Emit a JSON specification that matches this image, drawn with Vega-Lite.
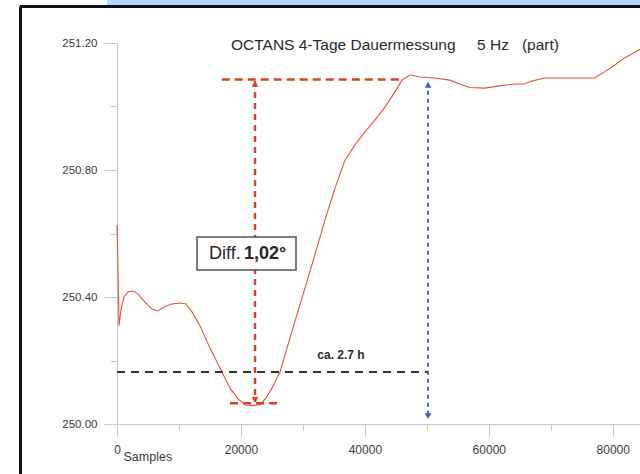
{
  "$schema": "https://vega.github.io/schema/vega-lite/v6.json",
  "width": 523,
  "height": 381,
  "autosize": {"type": "none"},
  "padding": {"left": 117, "top": 43, "right": 0, "bottom": 50},
  "background": "white",
  "config": {
    "view": {"stroke": null},
    "font": "Liberation Sans",
    "axis": {"grid": false, "domainColor": "#c8c8c8", "tickColor": "#c8c8c8", "labelColor": "#3c3c3c", "labelFont": "Liberation Sans"}
  },
  "datasets": {
    "heading": [
      {"s": -1614, "s2": 84400, "v": 251.3354, "v2": 251.3165}
    ],
    "frame": [
      {"s": -15654, "s2": 84400, "v": 251.315, "v2": 251.315},
      {"s": -15573, "s2": -15573, "v": 251.315, "v2": 249.8425}
    ],
    "octans": [
      {"s": 0, "v": 250.627},
      {"s": 150, "v": 250.5},
      {"s": 320, "v": 250.31},
      {"s": 650, "v": 250.36},
      {"s": 1130, "v": 250.4},
      {"s": 1770, "v": 250.416},
      {"s": 2580, "v": 250.419},
      {"s": 3390, "v": 250.41},
      {"s": 4500, "v": 250.384},
      {"s": 5650, "v": 250.362},
      {"s": 6610, "v": 250.356},
      {"s": 7740, "v": 250.37},
      {"s": 8870, "v": 250.378},
      {"s": 10160, "v": 250.381},
      {"s": 11130, "v": 250.378},
      {"s": 12103, "v": 250.353},
      {"s": 13395, "v": 250.309},
      {"s": 15008, "v": 250.239},
      {"s": 16945, "v": 250.164},
      {"s": 18236, "v": 250.113},
      {"s": 19527, "v": 250.079},
      {"s": 20818, "v": 250.06},
      {"s": 21948, "v": 250.058},
      {"s": 23080, "v": 250.061},
      {"s": 24045, "v": 250.082},
      {"s": 25010, "v": 250.113},
      {"s": 26300, "v": 250.164},
      {"s": 27920, "v": 250.271},
      {"s": 29855, "v": 250.397},
      {"s": 31630, "v": 250.513},
      {"s": 33570, "v": 250.643},
      {"s": 35180, "v": 250.743},
      {"s": 36790, "v": 250.831},
      {"s": 38400, "v": 250.879},
      {"s": 40010, "v": 250.92},
      {"s": 41630, "v": 250.957},
      {"s": 43250, "v": 250.998},
      {"s": 44860, "v": 251.046},
      {"s": 45990, "v": 251.083},
      {"s": 47280, "v": 251.1},
      {"s": 48850, "v": 251.093},
      {"s": 51270, "v": 251.09},
      {"s": 53690, "v": 251.083},
      {"s": 55300, "v": 251.071},
      {"s": 56910, "v": 251.06},
      {"s": 59330, "v": 251.058},
      {"s": 61750, "v": 251.065},
      {"s": 64170, "v": 251.071},
      {"s": 65780, "v": 251.071},
      {"s": 66910, "v": 251.08},
      {"s": 69010, "v": 251.09},
      {"s": 72230, "v": 251.09},
      {"s": 77060, "v": 251.09},
      {"s": 78670, "v": 251.109},
      {"s": 80280, "v": 251.13},
      {"s": 81890, "v": 251.153},
      {"s": 83500, "v": 251.17},
      {"s": 84400, "v": 251.18}
    ],
    "guides": [
      {"guide": "diff-h", "s": 16900, "s2": 45700, "v": 251.085, "v2": 251.085},
      {"guide": "diff-h", "s": 18236, "s2": 26628, "v": 250.065, "v2": 250.065},
      {"guide": "diff-v", "s": 22270, "s2": 22270, "v": 251.08, "v2": 250.07},
      {"guide": "level", "s": 0, "s2": 50200, "v": 250.164, "v2": 250.164},
      {"guide": "span", "s": 50200, "s2": 50200, "v": 251.075, "v2": 250.02}
    ],
    "arrows": [
      {"group": "diff", "dir": "up", "s": 22270, "v": 251.071},
      {"group": "diff", "dir": "down", "s": 22270, "v": 250.076},
      {"group": "span", "dir": "up", "s": 50200, "v": 251.068},
      {"group": "span", "dir": "down", "s": 50200, "v": 250.025}
    ],
    "box": [
      {"s": 12910, "s2": 28886, "v": 250.589, "v2": 250.485}
    ],
    "labels": [
      {"role": "title", "text": "OCTANS 4-Tage Dauermessung\u00a0\u00a0\u00a0\u00a0 5 Hz\u00a0\u00a0 (part)", "s": 18397, "v": 251.194},
      {"role": "duration", "text": "ca. 2.7 h", "s": 36150, "v": 250.217},
      {"role": "diff", "text": "Diff.", "s": 14847, "v": 250.535},
      {"role": "diffvalue", "text": "1,02°", "s": 20495, "v": 250.535}
    ]
  },
  "encoding": {
    "x": {"field": "s", "type": "quantitative", "scale": {"domain": [0, 84400], "nice": false, "zero": false}},
    "y": {"field": "v", "type": "quantitative", "scale": {"domain": [250, 251.2], "nice": false, "zero": false}}
  },
  "layer": [
    {
      "data": {"name": "heading"},
      "mark": {"type": "rect", "color": "#b4d6fb"},
      "encoding": {"x2": {"field": "s2"}, "y2": {"field": "v2"}}
    },
    {
      "data": {"name": "frame"},
      "mark": {"type": "rule", "color": "#111111", "strokeWidth": 3},
      "encoding": {"x2": {"field": "s2"}, "y2": {"field": "v2"}}
    },
    {
      "data": {"name": "octans"},
      "mark": {"type": "line", "color": "#e8503a", "strokeWidth": 1.1},
      "encoding": {
        "x": {
          "field": "s", "type": "quantitative",
          "axis": {
            "values": [0, 10000, 20000, 30000, 40000, 50000, 60000, 70000, 80000],
            "labelExpr": "datum.value % 20000 == 0 ? format(datum.value, 'd') : ''",
            "tickSize": {"condition": {"test": "datum.value % 20000 == 0", "value": 12}, "value": 6},
            "labelPadding": 8,
            "labelFontSize": 12,
            "labelFlush": false,
            "title": "Samples",
            "titleFont": "Liberation Sans",
            "titleFontSize": 12.5,
            "titleFontWeight": "normal",
            "titleColor": "#3c3c3c",
            "titleAlign": "left",
            "titleBaseline": "alphabetic",
            "titleX": 6,
            "titleY": 36
          }
        },
        "y": {
          "field": "v", "type": "quantitative",
          "axis": {
            "values": [250, 250.2, 250.4, 250.6, 250.8, 251, 251.2],
            "labelExpr": "round(datum.value * 10) % 4 == 0 ? format(datum.value, '.2f') : ''",
            "tickSize": {"condition": {"test": "round(datum.value * 10) % 4 == 0", "value": 13}, "value": 7},
            "labelPadding": 7,
            "labelFontSize": 11.5,
            "title": null
          }
        }
      }
    },
    {
      "data": {"name": "guides"},
      "transform": [{"filter": "datum.guide == 'level'"}],
      "mark": {"type": "rule", "color": "#333333", "strokeWidth": 2, "strokeDash": [8, 6]},
      "encoding": {"x2": {"field": "s2"}, "y2": {"field": "v2"}}
    },
    {
      "data": {"name": "guides"},
      "transform": [{"filter": "datum.guide == 'diff-h'"}],
      "mark": {"type": "rule", "color": "#e0401f", "strokeWidth": 2.5, "strokeDash": [8, 5]},
      "encoding": {"x2": {"field": "s2"}, "y2": {"field": "v2"}}
    },
    {
      "data": {"name": "guides"},
      "transform": [{"filter": "datum.guide == 'diff-v'"}],
      "mark": {"type": "rule", "color": "#e0401f", "strokeWidth": 2.5, "strokeDash": [6, 5]},
      "encoding": {"x2": {"field": "s2"}, "y2": {"field": "v2"}}
    },
    {
      "data": {"name": "guides"},
      "transform": [{"filter": "datum.guide == 'span'"}],
      "mark": {"type": "rule", "color": "#4b5bd0", "strokeWidth": 2, "strokeDash": [4, 4]},
      "encoding": {"x2": {"field": "s2"}, "y2": {"field": "v2"}}
    },
    {
      "data": {"name": "arrows"},
      "mark": {"type": "point", "filled": true, "size": 45, "opacity": 1},
      "encoding": {
        "shape": {"field": "dir", "type": "nominal", "scale": {"domain": ["up", "down"], "range": ["triangle-up", "triangle-down"]}, "legend": null},
        "color": {"field": "group", "type": "nominal", "scale": {"domain": ["diff", "span"], "range": ["#e0401f", "#4b5bd0"]}, "legend": null}
      }
    },
    {
      "data": {"name": "box"},
      "mark": {"type": "rect", "fill": "white", "stroke": "#555555", "strokeWidth": 1.5},
      "encoding": {"x2": {"field": "s2"}, "y2": {"field": "v2"}}
    },
    {
      "data": {"name": "labels"},
      "transform": [{"filter": "datum.role == 'title'"}],
      "mark": {"type": "text", "align": "left", "baseline": "middle", "font": "Liberation Sans", "fontSize": 15.5, "color": "#2a2a2a"},
      "encoding": {"text": {"field": "text"}}
    },
    {
      "data": {"name": "labels"},
      "transform": [{"filter": "datum.role == 'duration'"}],
      "mark": {"type": "text", "align": "center", "baseline": "middle", "font": "Liberation Sans", "fontSize": 12, "fontWeight": "bold", "color": "#2a2a2a"},
      "encoding": {"text": {"field": "text"}}
    },
    {
      "data": {"name": "labels"},
      "transform": [{"filter": "datum.role == 'diff'"}],
      "mark": {"type": "text", "align": "left", "baseline": "middle", "font": "Liberation Sans", "fontSize": 18, "color": "#2a2a2a"},
      "encoding": {"text": {"field": "text"}}
    },
    {
      "data": {"name": "labels"},
      "transform": [{"filter": "datum.role == 'diffvalue'"}],
      "mark": {"type": "text", "align": "left", "baseline": "middle", "font": "Liberation Sans", "fontSize": 18, "fontWeight": "bold", "color": "#2a2a2a"},
      "encoding": {"text": {"field": "text"}}
    }
  ]
}
